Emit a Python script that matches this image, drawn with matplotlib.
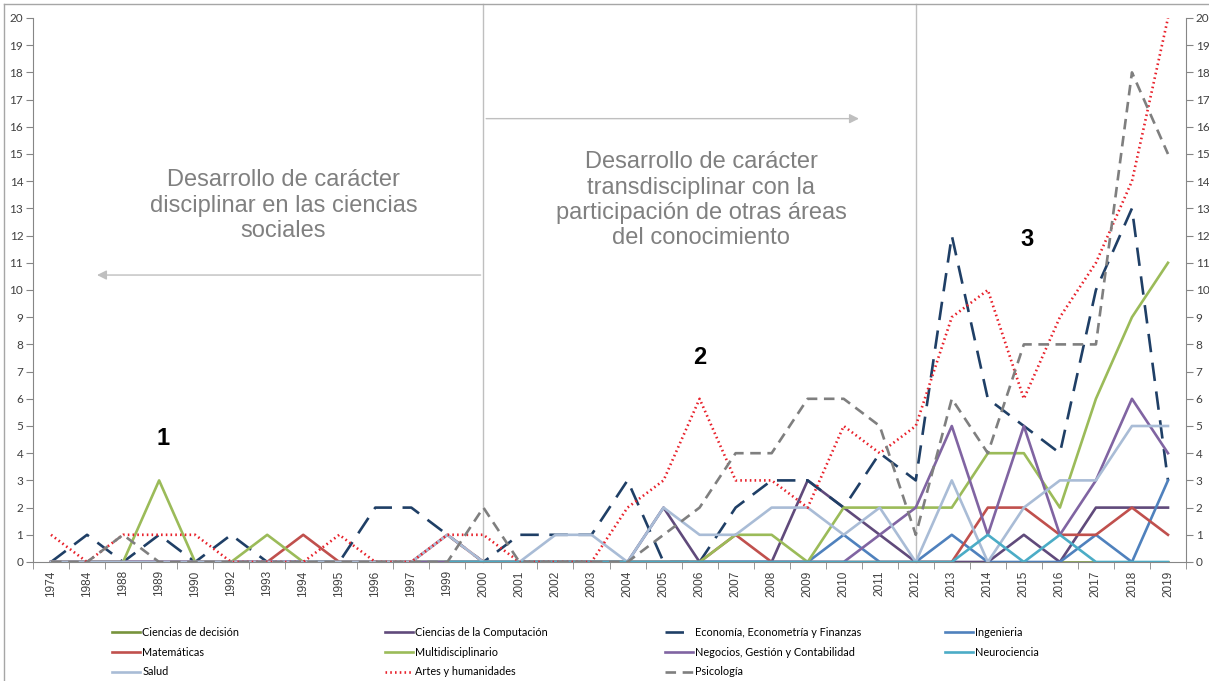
import matplotlib.pyplot as plt
import matplotlib
from matplotlib.lines import Line2D

matplotlib.rc('font', family=['Liberation Sans', 'DejaVu Sans'])
narrow = ['Lato', 'DejaVu Sans']

years = ['1974', '1984', '1988', '1989', '1990', '1992', '1993', '1994', '1995', '1996',
         '1997', '1999', '2000', '2001', '2002', '2003', '2004', '2005', '2006', '2007',
         '2008', '2009', '2010', '2011', '2012', '2013', '2014', '2015', '2016', '2017',
         '2018', '2019']

decision = [0] * 32
computacion = [0] * 16 + [0, 2, 0, 0, 0, 3, 2, 1, 0, 0, 0, 1, 0, 2, 2, 2]
economia = [0, 1, 0, 1, 0, 1, 0, 0, 0, 2, 2, 1, 0, 1, 1, 1, 3, 0, 0, 2, 3, 3, 2, 4, 3,
            12, 6, 5, 4, 10, 13, 3]
ingenieria = [0] * 22 + [1, 0, 0, 1, 0, 0, 0, 1, 0, 3]
matematicas = [0, 0, 0, 0, 0, 0, 0, 1, 0, 0, 0, 1, 0, 0, 0, 0, 0, 0, 0, 1, 0, 0, 0, 0, 0,
               0, 2, 2, 1, 1, 2, 1]
multidisciplinario = [0, 0, 0, 3, 0, 0, 1, 0, 0, 0, 0, 0, 0, 0, 0, 0, 0, 0, 0, 1, 1, 0, 2,
                      2, 2, 2, 4, 4, 2, 6, 9, 11]
negocios = [0] * 22 + [0, 1, 2, 5, 1, 5, 1, 3, 6, 4]
neurociencia = [None] * 11 + [0] * 15 + [1, 0, 1, 0, 0, 0]
salud = [0, 0, 0, 0, 0, 0, 0, 0, 0, 0, 0, 1, 0, 0, 1, 1, 0, 2, 1, 1, 2, 2, 1, 2, 0, 3, 0,
         2, 3, 3, 5, 5]
artes = [1, 0, 1, 1, 1, 0, 0, 0, 1, 0, 0, 1, 1, 0, 0, 0, 2, 3, 6, 3, 3, 2, 5, 4, 5, 9, 10,
         6, 9, 11, 14, 20]
psicologia = [0, 0, 1, 0, 0, 0, 0, 0, 0, 0, 0, 0, 2, 0, 0, 0, 0, 1, 2, 4, 4, 6, 6, 5, 1, 6,
              4, 8, 8, 8, 18, 15]

x = list(range(len(years)))

fig = plt.figure(figsize=(12.09, 6.81), dpi=100)
ax = fig.add_axes([33 / 1209, 1 - 562 / 681, (1186 - 33) / 1209, (562 - 18) / 681])

lw = 1.9
series = [
    ('Ciencias de decisión', decision, dict(color='#77933C', ls='-')),
    ('Ciencias de la Computación', computacion, dict(color='#604A7B', ls='-')),
    ('Economía, Econometría y Finanzas', economia, dict(color='#1F3F66', ls=(0, (7, 4)))),
    ('Ingenieria', ingenieria, dict(color='#4F81BD', ls='-')),
    ('Matemáticas', matematicas, dict(color='#C0504D', ls='-')),
    ('Multidisciplinario', multidisciplinario, dict(color='#9BBB59', ls='-')),
    ('Negocios, Gestión y Contabilidad', negocios, dict(color='#8064A2', ls='-')),
    ('Salud', salud, dict(color='#A9BCD6', ls='-')),
    ('Neurociencia', neurociencia, dict(color='#4BACC6', ls='-')),
    ('Artes y humanidades', artes, dict(color='#E8202A', ls=(0, (0.6, 1.2)))),
    ('Psicología', psicologia, dict(color='#7F7F7F', ls=(0, (4, 2.5)))),
]
handles = {}
for name, vals, st in series:
    y = [float('nan') if v is None else v for v in vals]
    h, = ax.plot(x, y, lw=lw, label=name, **st)
    handles[name] = h

ax.set_xlim(-0.5, len(years) - 0.5)
ax.set_ylim(0, 20)
ax.set_yticks(range(0, 21))
ax.set_xticks(x)
ax.set_xticklabels(years, rotation=90, fontsize=8.5, color='#404040')
ax.set_xticks([i - 0.5 for i in range(len(years) + 1)], minor=True)
ax.tick_params(axis='x', which='major', length=0, pad=6)
ax.tick_params(axis='x', which='minor', length=5, color='#868686')
ax.tick_params(axis='y', length=5, color='#868686', labelsize=8.5, labelcolor='#404040', pad=2)
for lab in ax.get_yticklabels():
    lab.set_family(narrow)
for s in ['top', 'right']:
    ax.spines[s].set_visible(False)
for s in ['left', 'bottom']:
    ax.spines[s].set_color('#868686')

ax2 = ax.twinx()
ax2.set_ylim(0, 20)
ax2.set_yticks(range(0, 21))
ax2.tick_params(axis='y', length=5, color='#868686', labelsize=8.5, labelcolor='#404040', pad=2)
for lab in ax2.get_yticklabels():
    lab.set_family(narrow)
for s in ['top', 'left', 'bottom']:
    ax2.spines[s].set_visible(False)
ax2.spines['right'].set_color('#868686')

# period separators
top = (562 - 4) / (562 - 18)
for xv in [12, 24]:
    ax.axvline(xv, ymin=0, ymax=top, color='#BFBFBF', lw=1, clip_on=False, zorder=0)

arrow = dict(arrowstyle='-|>', color='#BFBFBF', lw=1, mutation_scale=14)
ax.annotate('', xy=(1.2, 10.55), xytext=(12, 10.55), arrowprops=arrow)
ax.annotate('', xy=(22.5, 16.3), xytext=(12, 16.3), arrowprops=arrow)

ax.text(6.45, 13.1, 'Desarrollo de carácter\ndisciplinar en las ciencias\nsociales',
        ha='center', va='center', fontsize=17, color='#808080', linespacing=1.2)
ax.text(18.05, 13.3, 'Desarrollo de carácter\ntransdisciplinar con la\nparticipación de otras áreas\ndel conocimiento',
        ha='center', va='center', fontsize=17, color='#808080', linespacing=1.2)
ax.text(3.1, 4.55, '1', ha='center', va='center', fontsize=17, fontweight='bold')
ax.text(18.0, 7.5, '2', ha='center', va='center', fontsize=17, fontweight='bold')
ax.text(27.1, 11.85, '3', ha='center', va='center', fontsize=17, fontweight='bold')

# legend laid out in 4 columns like the Excel chart
cols = [
    ['Ciencias de decisión', 'Matemáticas', 'Salud'],
    ['Ciencias de la Computación', 'Multidisciplinario', 'Artes y humanidades'],
    ['Economía, Econometría y Finanzas', 'Negocios, Gestión y Contabilidad', 'Psicología'],
    ['Ingenieria', 'Neurociencia'],
]
col_x = [112, 385, 665, 945]
for names, cx in zip(cols, col_x):
    fig.legend([handles[n] for n in names], names, loc='upper left',
               bbox_to_anchor=(cx / 1209, 1 - 627 / 681), frameon=False,
               prop={'family': narrow, 'size': 7.8}, handlelength=2.6,
               handletextpad=0.2, labelspacing=0.8, borderaxespad=0, borderpad=0)

# chart area border
fig.add_artist(Line2D([4 / 1209, 4 / 1209], [0, 1 - 4 / 681], color='#A6A6A6', lw=1))
fig.add_artist(Line2D([4 / 1209, 1], [1 - 4 / 681, 1 - 4 / 681], color='#A6A6A6', lw=1))

plt.savefig('out.png', dpi=100)
